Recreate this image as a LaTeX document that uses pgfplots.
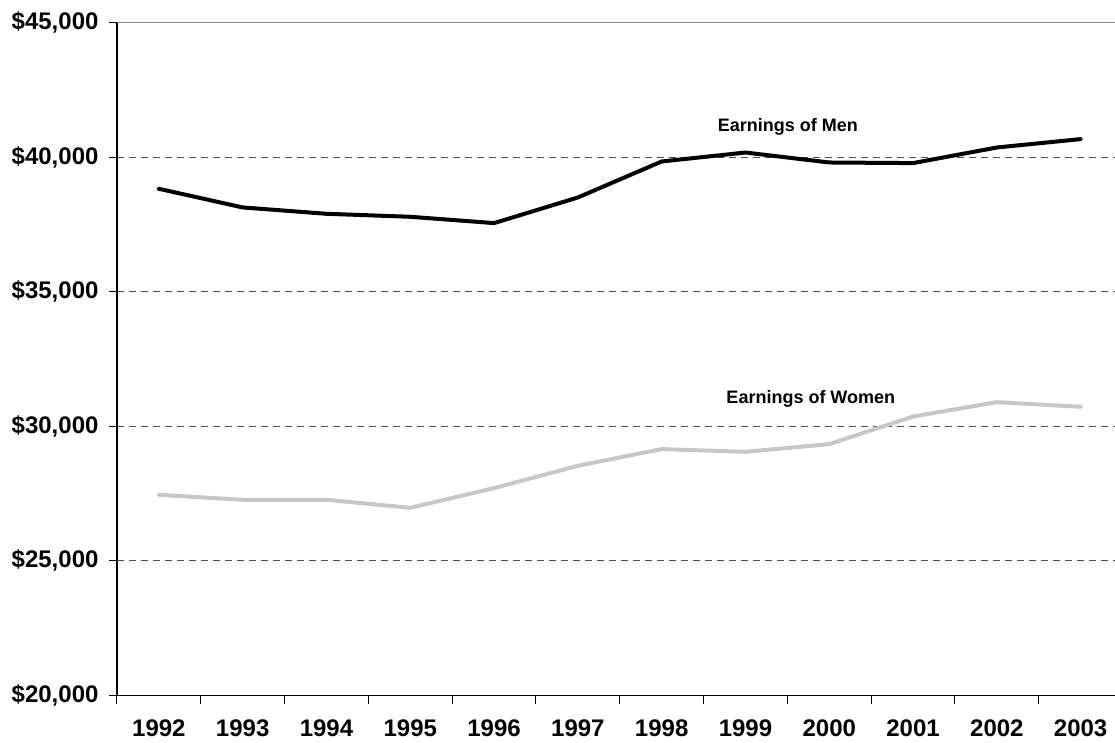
\documentclass[border=0pt]{standalone}
\usepackage{pgfplots}
\pgfplotsset{compat=1.18}
\usepackage{fontspec}
\setmainfont{Liberation Sans}
\begin{document}
\begin{tikzpicture}
\begin{axis}[
  at={(0pt,0pt)}, anchor=south west,
  scale only axis,
  width=998pt, height=673pt,
  xmin=-0.5, xmax=11.41,
  ymin=20000, ymax=45000,
  scaled y ticks=false,
  axis x line*=bottom,
  axis y line*=left,
  axis line style={black, line width=1.1pt},
  tick align=outside,
  xtick={0,...,11},
  xticklabels={1992,1993,1994,1995,1996,1997,1998,1999,2000,2001,2002,2003},
  major x tick style={draw=none},
  minor xtick={-0.5,0.5,...,10.5},
  minor tick length=8pt,
  minor x tick style={black, line width=1pt},
  ytick={20000,25000,30000,35000,40000,45000},
  yticklabels={{\$20,000},{\$25,000},{\$30,000},{\$35,000},{\$40,000},{\$45,000}},
  major tick length=8pt,
  major y tick style={black, line width=1pt},
  tick label style={font=\fontsize{24}{28}\selectfont\bfseries},
  xticklabel style={yshift=-12.5pt},
  yticklabel style={xshift=-7pt},
  extra y ticks={25000,30000,35000,40000,45000},
  extra y tick labels={},
  extra y tick style={grid=major, major tick length=0pt},
  grid style={dash pattern=on 7pt off 5pt, line width=0.9pt, color=black!70},
  clip=false,
]
\addplot[color=black!22, line width=4pt, line join=round, line cap=round] coordinates {
  (0,27455) (1,27270) (2,27270) (3,26972) (4,27704) (5,28533)
  (6,29153) (7,29053) (8,29338) (9,30364) (10,30898) (11,30724)
};
\addplot[color=black, line width=4pt, line join=round, line cap=round] coordinates {
  (0,38822) (1,38130) (2,37894) (3,37783) (4,37548) (5,38500)
  (6,39837) (7,40170) (8,39800) (9,39777) (10,40357) (11,40668)
};
\draw[color=black!45, line width=1.2pt] (rel axis cs:0,1) -- (rel axis cs:1,1);
\node[font=\fontsize{18}{21}\selectfont\bfseries] at (axis cs:7.506,41126) {Earnings of Men};
\node[font=\fontsize{18}{21}\selectfont\bfseries] at (axis cs:7.78,31022) {Earnings of Women};
\end{axis}
\pgfresetboundingbox
\path[use as bounding box] (-117pt,-46.5pt) rectangle (998pt,695.5pt);
\end{tikzpicture}
\end{document}
